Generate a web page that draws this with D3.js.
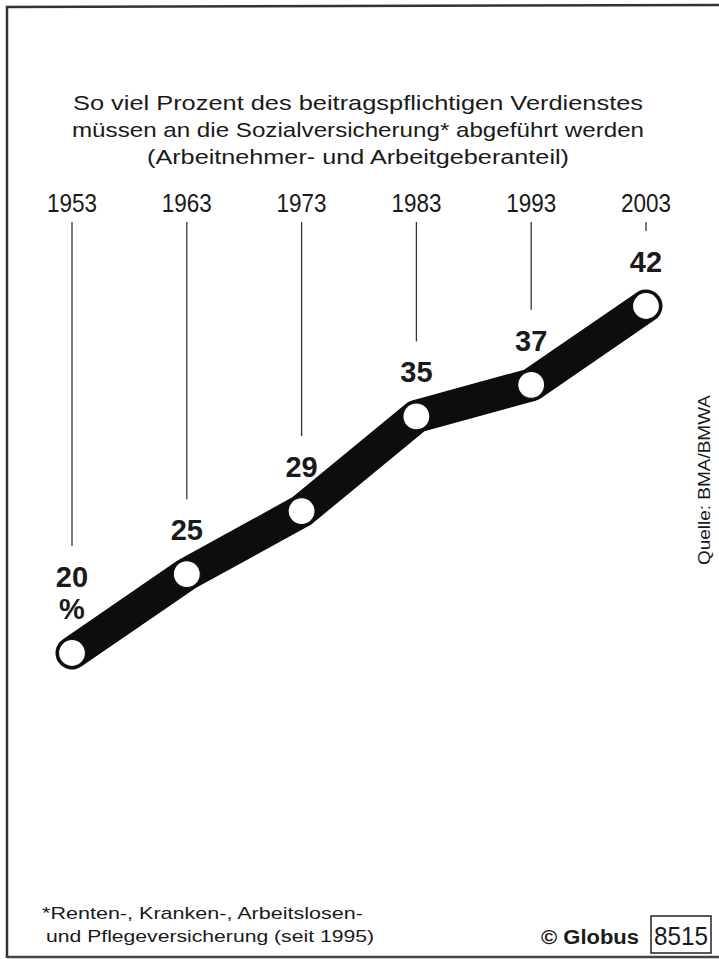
<!DOCTYPE html>
<html>
<head>
<meta charset="utf-8">
<script src="https://cdn.jsdelivr.net/npm/d3@7"></script>
<style>
  body { margin: 0; background: #fff; }
  svg text { font-family: "Liberation Sans", Arial, sans-serif; fill: #1a1a1a; }
</style>
</head>
<body>
<div id="chart"></div>
<script>
// Beitragssatz Sozialversicherung, Prozent
var years = [1953, 1963, 1973, 1983, 1993, 2003];
var values = [20, 25, 29, 35, 37, 42];
var titleLines = [
  'So viel Prozent des beitragspflichtigen Verdienstes',
  'müssen an die Sozialversicherung* abgeführt werden',
  '(Arbeitnehmer- und Arbeitgeberanteil)'
];
var footLines = [
  '*Renten-, Kranken-, Arbeitslosen-',
  'und Pflegeversicherung (seit 1995)'
];

(function() {
  var width = 719, height = 959;
  var svg = d3.select('#chart').append('svg')
    .attr('width', width)
    .attr('height', height);

  // frame
  svg.append('path')
    .attr('d', 'M7,958 L7,7 L719,5')
    .attr('fill', 'none')
    .attr('stroke', '#333')
    .attr('stroke-width', 2.5);
  svg.append('line')
    .attr('x1', 7).attr('x2', 719)
    .attr('y1', 957).attr('y2', 957)
    .attr('stroke', '#444').attr('stroke-width', 2.5);

  var x = d3.scaleLinear().domain([1953, 2003]).range([72, 646]);
  var y = d3.scaleLinear().domain([20, 42]).range([653, 306]);

  // title (widths stretched to match the print)
  var titleW = [570, 572, 422];
  svg.append('g').selectAll('text')
    .data(titleLines)
    .join('text')
    .attr('x', 358)
    .attr('y', function(d, i) { return 110 + i * 27; })
    .attr('text-anchor', 'middle')
    .attr('font-size', 21)
    .attr('textLength', function(d, i) { return titleW[i]; })
    .attr('lengthAdjust', 'spacingAndGlyphs')
    .text(function(d) { return d; });

  var data = years.map(function(yr, i) { return { year: yr, value: values[i] }; });

  // year labels
  svg.append('g').selectAll('text')
    .data(data)
    .join('text')
    .attr('x', function(d) { return x(d.year); })
    .attr('y', 212)
    .attr('text-anchor', 'middle')
    .attr('font-size', 26)
    .attr('textLength', 50)
    .attr('lengthAdjust', 'spacingAndGlyphs')
    .text(function(d) { return d.year; });

  // label centre above each point
  function labelY(d, i) { return y(d.value) - (i === 0 ? 76 : 44); }

  // thin drop lines
  svg.append('g').selectAll('line')
    .data(data)
    .join('line')
    .attr('x1', function(d) { return x(d.year); })
    .attr('x2', function(d) { return x(d.year); })
    .attr('y1', 222)
    .attr('y2', function(d, i) { return labelY(d, i) - 31; })
    .attr('stroke', '#333')
    .attr('stroke-width', 1.3);

  // thick band
  var line = d3.line()
    .x(function(d) { return x(d.year); })
    .y(function(d) { return y(d.value); });
  svg.append('path')
    .datum(data)
    .attr('d', line)
    .attr('fill', 'none')
    .attr('stroke', '#0d0d0d')
    .attr('stroke-width', 33)
    .attr('stroke-linejoin', 'round')
    .attr('stroke-linecap', 'round');

  svg.append('g').selectAll('circle')
    .data(data)
    .join('circle')
    .attr('cx', function(d) { return x(d.year); })
    .attr('cy', function(d) { return y(d.value); })
    .attr('r', 13.5)
    .attr('fill', '#fff')
    .attr('stroke', '#111')
    .attr('stroke-width', 1.2);

  // value labels
  svg.append('g').selectAll('text')
    .data(data)
    .join('text')
    .attr('x', function(d) { return x(d.year); })
    .attr('y', function(d, i) { return labelY(d, i) + 10; })
    .attr('text-anchor', 'middle')
    .attr('font-size', 29)
    .attr('font-weight', 'bold')
    .text(function(d) { return d.value; });
  svg.append('text')
    .attr('x', x(years[0]))
    .attr('y', y(values[0]) - 44 + 10)
    .attr('text-anchor', 'middle')
    .attr('font-size', 29)
    .attr('font-weight', 'bold')
    .text('%');

  // source
  svg.append('text')
    .attr('transform', 'translate(710,480) rotate(-90)')
    .attr('text-anchor', 'middle')
    .attr('font-size', 17)
    .attr('textLength', 170)
    .attr('lengthAdjust', 'spacingAndGlyphs')
    .text('Quelle: BMA/BMWA');

  // footnote
  var footW = [321, 328];
  svg.append('g').selectAll('text')
    .data(footLines)
    .join('text')
    .attr('x', function(d, i) { return i === 0 ? 42 : 46; })
    .attr('y', function(d, i) { return 919 + i * 23; })
    .attr('font-size', 17)
    .attr('textLength', function(d, i) { return footW[i]; })
    .attr('lengthAdjust', 'spacingAndGlyphs')
    .text(function(d) { return d; });

  svg.append('text')
    .attr('x', 639)
    .attr('y', 944)
    .attr('text-anchor', 'end')
    .attr('font-size', 20)
    .attr('font-weight', 'bold')
    .attr('textLength', 98)
    .attr('lengthAdjust', 'spacingAndGlyphs')
    .text('© Globus');
  svg.append('rect')
    .attr('x', 651).attr('y', 916)
    .attr('width', 60).attr('height', 37)
    .attr('fill', 'none')
    .attr('stroke', '#222')
    .attr('stroke-width', 1.5);
  svg.append('text')
    .attr('x', 681)
    .attr('y', 945)
    .attr('text-anchor', 'middle')
    .attr('font-size', 26)
    .attr('textLength', 54)
    .attr('lengthAdjust', 'spacingAndGlyphs')
    .text('8515');
})();
</script>
</body>
</html>
